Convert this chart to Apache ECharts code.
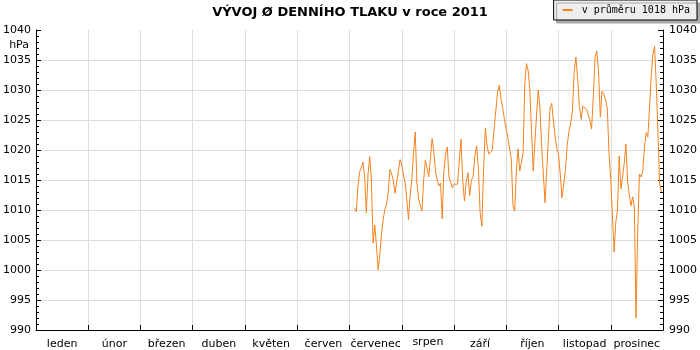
<!DOCTYPE html>
<html><head><meta charset="utf-8">
<script src="https://cdn.jsdelivr.net/npm/echarts@6/dist/echarts.min.js"></script>
<style>html,body{margin:0;padding:0;background:#fff}#c{width:700px;height:350px}</style>
</head><body><div id="c"></div>
<script>
const titleText = 'VÝVOJ Ø DENNÍHO TLAKU v roce 2011';
const seriesName = 'v průměru 1018 hPa';
const unitLabel = 'hPa';
const months = ['leden','únor','březen','duben','květen','červen','červenec','srpen','září','říjen','listopad','prosinec'];
const daysInMonth = [31,28,31,30,31,30,31,31,30,31,30,31];
const yMin = 990, yMax = 1040, yStep = 5;

const julyFirstDay = 4;
const july = [1010.3,1009.7,1014,1016.3,1017.1,1018,1015.5,1009.5,1016,1018.9,1015,1004.5,1007.5,1004,1000,1002.5,1006,1008.5,1010.1,1011,1013,1016.8,1016,1015,1012.8,1013,1016.5,1018.4];
const august = [1017.5,1015.9,1014.5,1011.8,1008.4,1012.5,1015.2,1019.6,1023,1014.5,1011.8,1010.8,1009.8,1015,1018.3,1017,1015.5,1018.5,1021.9,1019.8,1016.5,1015,1014,1014.5,1008.5,1016.5,1019.3,1020.5,1015.5,1014.6,1013.7];
const september = [1014.3,1014.4,1014.3,1014.3,1021.8,1015,1011.5,1014.6,1016.2,1012.4,1015,1015.5,1019,1020.7,1017,1009.5,1007.3,1016.8,1023.7,1020.6,1019.3,1019.3,1020,1023.5,1026.5,1029.6,1030.8,1028.5,1027,1025];
const october = [1023.4,1022,1021.7,1018.5,1010.7,1009.8,1016.5,1020.2,1016.5,1016.2,1019.5,1031,1034.4,1033.2,1030,1023,1016.5,1016.8,1026,1030,1026.8,1020.7,1016,1011.2,1016.5,1022,1027,1027.8,1024.8,1022.2,1020.3];
const november = [1019.3,1016,1012,1012.2,1016.8,1020.8,1023.1,1024.5,1026.5,1033,1035.5,1031.8,1027.3,1025.1,1027.3,1027.3,1026.8,1026,1025,1023.5,1029,1035.5,1036.5,1033,1025.5,1029.8,1029.3,1028.4,1027,1019.5];
const december = [1015.1,1009,1003,1008,1010,1019,1013.5,1015.5,1017.8,1021,1014.8,1012.5,1010.7,1012.2,1010.5,992,1006.5,1016,1015.5,1016.5,1020.5,1022.9,1022.2,1027,1032.3,1036,1037.3,1031,1022.9,1014.5,1013];

const monthSeries = [[6, julyFirstDay, july],[7,1,august],[8,1,september],[9,1,october],[10,1,november],[11,1,december]];
const data = [];
monthSeries.forEach(([m, first, vals]) => {
  vals.forEach((v, i) => data.push([m + (first - 1 + i) / daysInMonth[m], v]));
});

const font = 'DejaVu Sans';
const lineColor = '#f5821f';
const gridColor = '#dddddd';

const chart = echarts.init(document.getElementById('c'), null, {renderer:'canvas'});
const yAxisBase = {
  type:'value', min:yMin, max:yMax, interval:yStep,
  axisLine:{show:true, lineStyle:{color:'#000', width:1}},
  axisTick:{show:true, inside:true, length:5, lineStyle:{color:'#000'}},
  minorTick:{show:true, splitNumber:5, length:3, lineStyle:{color:'#000'}},
  axisLabel:{color:'#000', fontFamily:font, fontSize:11, formatter:v => String(v)}
};
chart.setOption({
  animation:false,
  title:[
    {text:titleText, left:'center', top:6, padding:0, textStyle:{fontFamily:font, fontSize:13, fontWeight:'bold', color:'#000', lineHeight:14}},
    {text:unitLabel, right:671, top:39, padding:0, textStyle:{fontFamily:font, fontSize:11, fontWeight:'normal', color:'#000', lineHeight:12}}
  ],
  legend:{
    right:3, top:0, selectedMode:false,
    data:[{name:seriesName, icon:'rect'}],
    itemWidth:10, itemHeight:2,
    backgroundColor:'#eeeeee', borderColor:'#000', borderWidth:1, borderRadius:0,
    shadowColor:'#aaaaaa', shadowOffsetX:3, shadowOffsetY:3, shadowBlur:0,
    padding:[5,7,5,9],
    textStyle:{fontFamily:'DejaVu Sans Mono', fontSize:10, color:'#000', padding:[0,0,0,4]}
  },
  grid:{left:34, right:34, top:30, bottom:20},
  xAxis:[
    {type:'category', data:months, boundaryGap:true,
     axisLine:{lineStyle:{color:'#000', width:1}},
     axisTick:{show:true, inside:true, length:5, lineStyle:{color:'#000'}},
     splitLine:{show:true, lineStyle:{color:gridColor, width:1}},
     axisLabel:{interval:0, margin:6, color:'#000', fontFamily:font, fontSize:11,
       formatter:v => v === 'srpen' ? '{s|' + v + '}' : '{n|' + v + '}',
       rich:{n:{padding:[4,0,0,0], fontFamily:font, fontSize:11, lineHeight:13, color:'#000'},
             s:{padding:[0,0,0,0], fontFamily:font, fontSize:11, lineHeight:13, color:'#000'}}}},
    {type:'value', min:0, max:12, show:false}
  ],
  yAxis:[
    Object.assign({}, yAxisBase, {position:'left',
      splitLine:{show:true, showMaxLine:false, lineStyle:{color:gridColor, width:1}},
      axisLabel:Object.assign({}, yAxisBase.axisLabel, {margin:5})}),
    Object.assign({}, yAxisBase, {position:'right',
      splitLine:{show:false},
      axisLabel:Object.assign({}, yAxisBase.axisLabel, {margin:6})})
  ],
  series:[{
    name:seriesName, type:'line', xAxisIndex:1, yAxisIndex:0,
    data:data, symbol:'none', showSymbol:false, smooth:false,
    color:lineColor, lineStyle:{width:1, color:lineColor}, itemStyle:{color:lineColor}
  }]
});
</script>
</body></html>
